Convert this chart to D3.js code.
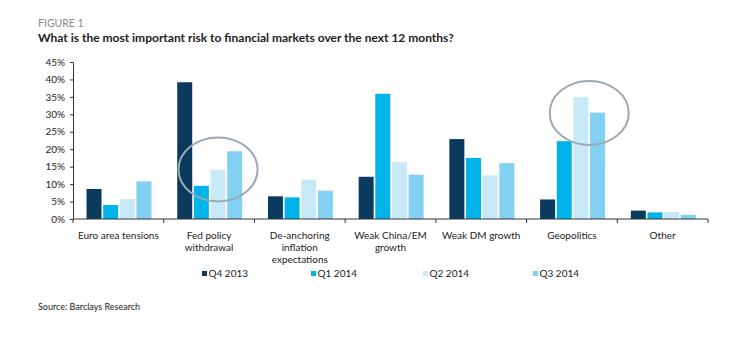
<!DOCTYPE html>
<html>
<head>
<meta charset="utf-8">
<script src="https://cdn.jsdelivr.net/npm/d3@7/dist/d3.min.js"></script>
<style>
    body { margin: 0; background: #fff; }
    text { font-family: Lato, "Open Sans", sans-serif; fill: #222; }
    .axis path, .axis line { stroke: #333; }
    .axis text { font-size: 10px; }
</style>
</head>
<body>
<script>

    // data
    var categories = ["Euro area tensions", "Fed policy\nwithdrawal", "De-anchoring\ninflation\nexpectations",
        "Weak China/EM\ngrowth", "Weak DM growth", "Geopolitics", "Other"];
    var series = ["Q4 2013", "Q1 2014", "Q2 2014", "Q3 2014"];
    var q4_2013 = [8.6, 39.2, 6.5, 12.1, 22.9, 5.6, 2.4];
    var q1_2014 = [4.0, 9.5, 6.2, 35.9, 17.5, 22.3, 1.9];
    var q2_2014 = [5.7, 14.1, 11.3, 16.4, 12.5, 34.9, 2.0];
    var q3_2014 = [10.8, 19.4, 8.1, 12.7, 16.0, 30.5, 1.2];
    var yTicks = [0, 5, 10, 15, 20, 25, 30, 35, 40, 45];
    // circled groups: category, first and last series, level of the circle centre
    var highlights = [
        { cat: 1, from: 1, to: 3, level: 14.2 },
        { cat: 5, from: 2, to: 3, level: 30.4 }
    ];

    var colors = ["#0b3a5f", "#00b3e8", "#c7e9f8", "#82d1f2"];
    var values = [q4_2013, q1_2014, q2_2014, q3_2014];

    var width = 748, height = 354;
    var plotLeft = 73, plotRight = 708, plotTop = 62, plotBottom = 219;

    var svg = d3.select("body").append("svg")
        .attr("width", width)
        .attr("height", height);

    svg.append("text")
        .attr("x", 38).attr("y", 26.5)
        .style("font-size", "10.5px")
        .style("fill", "#8a8a8a")
        .text("FIGURE 1");

    svg.append("text")
        .attr("x", 38).attr("y", 41.5)
        .style("font-size", "12px")
        .style("font-weight", "bold")
        .text("What is the most important risk to financial markets over the next 12 months?");

    var x0 = d3.scaleBand().domain(d3.range(categories.length)).range([plotLeft, plotRight]);
    var bw = x0.bandwidth();
    var x1 = d3.scaleBand().domain(d3.range(series.length))
        .range([bw * 0.149, bw * 0.865]).paddingInner(0.1);
    var y = d3.scaleLinear().domain([0, 45]).range([plotBottom, plotTop]);

    // bars
    series.forEach(function (s, si) {
        svg.append("g").selectAll("rect")
            .data(values[si])
            .enter().append("rect")
            .attr("x", function (d, i) { return x0(i) + x1(si); })
            .attr("y", function (d) { return y(d); })
            .attr("width", x1.bandwidth())
            .attr("height", function (d) { return y(0) - y(d); })
            .attr("fill", colors[si]);
    });

    // y axis
    var yAxis = svg.append("g")
        .attr("class", "axis")
        .attr("transform", "translate(" + plotLeft + ",0)")
        .call(d3.axisLeft(y).tickValues(yTicks).tickSize(3).tickSizeOuter(0)
            .tickFormat(function (d) { return d + "%"; }));
    yAxis.selectAll("text").attr("x", -8);

    // x axis line with ticks at band edges
    var xg = svg.append("g").attr("class", "axis");
    xg.append("line")
        .attr("x1", plotLeft).attr("x2", plotRight)
        .attr("y1", plotBottom).attr("y2", plotBottom);
    xg.selectAll("line.tk")
        .data(d3.range(categories.length + 1))
        .enter().append("line")
        .attr("class", "tk")
        .attr("x1", function (i) { return plotLeft + i * bw; })
        .attr("x2", function (i) { return plotLeft + i * bw; })
        .attr("y1", plotBottom).attr("y2", plotBottom + 4);

    // category labels
    var lab = svg.append("g").selectAll("text")
        .data(categories)
        .enter().append("text")
        .attr("text-anchor", "middle")
        .style("font-size", "10px")
        .attr("transform", function (d, i) { return "translate(" + (x0(i) + bw / 2) + ",238.5)"; });
    lab.selectAll("tspan")
        .data(function (d) { return d.split("\n"); })
        .enter().append("tspan")
        .attr("x", 0)
        .attr("dy", function (d, i) { return i ? 12 : 0; })
        .text(function (d) { return d; });

    // circles
    svg.append("g").selectAll("ellipse")
        .data(highlights)
        .enter().append("ellipse")
        .attr("cx", function (h) {
            return (x0(h.cat) + x1(h.from) + x0(h.cat) + x1(h.to) + x1.bandwidth()) / 2;
        })
        .attr("cy", function (h) { return y(h.level); })
        .attr("rx", 39.5)
        .attr("ry", 32)
        .attr("fill", "none")
        .attr("stroke", "#9aaab4")
        .attr("stroke-width", 2);

    // legend
    var legendX = [202, 311, 423, 533];
    var lg = svg.append("g").selectAll("g")
        .data(series)
        .enter().append("g")
        .attr("transform", function (d, i) { return "translate(" + legendX[i] + ",277)"; });
    lg.append("rect")
        .attr("x", 0).attr("y", -6)
        .attr("width", 5).attr("height", 5)
        .attr("fill", function (d, i) { return colors[i]; });
    lg.append("text")
        .attr("x", 6.5)
        .style("font-size", "10px")
        .text(function (d) { return d; });

    svg.append("text")
        .attr("x", 38).attr("y", 309.5)
        .style("font-size", "9px")
        .text("Source: Barclays Research");

</script>
</body>
</html>
